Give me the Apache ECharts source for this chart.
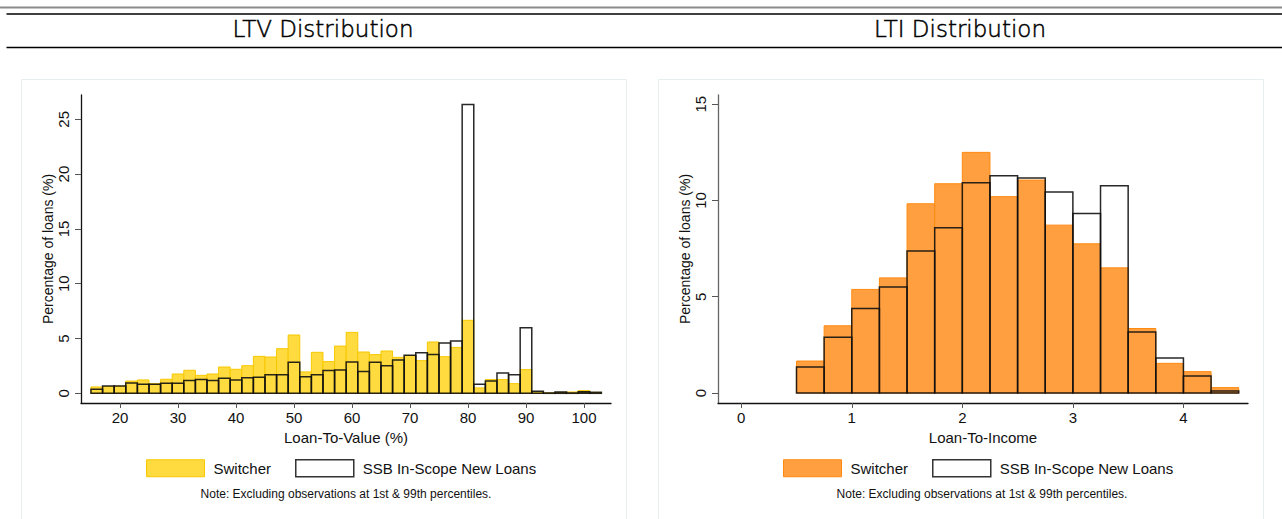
<!DOCTYPE html>
<html>
<head>
<meta charset="utf-8">
<script src="https://cdn.jsdelivr.net/npm/echarts@6/dist/echarts.min.js"></script>
<style>
  html, body { margin: 0; padding: 0; background: #ffffff; }
  #chart { width: 1282px; height: 519px; }
</style>
</head>
<body>
<div id="chart"></div>
<script>
// ---------------- DATA ----------------
// LTV histogram: bins of width 2 (lower edges), percentage of loans
const ltvBinWidth = 2;
const ltvBinLower = [15,17,19,21,23,25,27,29,31,33,35,37,39,41,43,45,47,49,51,53,55,57,59,61,63,65,67,69,71,73,75,77,79,81,83,85,87,89,91,93,95,97,99,101];
const ltvSwitcher = [0.58,0.62,0.65,1.12,1.22,0.88,1.28,1.76,2.10,1.64,1.76,2.40,2.19,2.52,3.37,3.31,4.07,5.32,1.95,3.74,2.89,4.31,5.56,3.77,3.53,3.86,3.28,3.45,2.98,4.68,3.34,4.19,6.66,0.49,1.25,1.25,0.88,2.16,0.12,0.03,0.09,0.12,0.24,0.09];
const ltvSSB      = [0.36,0.67,0.67,0.94,0.82,0.82,0.91,0.91,1.16,1.25,1.16,1.37,1.22,1.43,1.46,1.70,1.70,2.83,1.52,1.70,2.07,2.13,2.86,1.98,2.83,2.52,3.04,3.47,3.71,3.53,4.59,4.77,26.35,0.82,1.12,1.85,1.70,5.99,0.18,0.03,0.12,0.03,0.15,0.09];
const ltvTicksX = [20,30,40,50,60,70,80,90,100];
const ltvTicksY = [0,5,10,15,20,25];

// LTI histogram: bins of width 0.25 (lower edges)
const ltiBinWidth = 0.25;
const ltiBinLower = [0.5,0.75,1.0,1.25,1.5,1.75,2.0,2.25,2.5,2.75,3.0,3.25,3.5,3.75,4.0,4.25];
const ltiSwitcher = [1.66,3.49,5.38,5.98,9.83,10.87,12.50,10.20,11.06,8.72,7.75,6.50,3.35,1.54,1.11,0.28];
const ltiSSB      = [1.35,2.90,4.39,5.51,7.37,8.58,10.92,11.29,11.17,10.44,9.33,10.77,3.17,1.82,0.88,0.10];
const ltiTicksX = [0,1,2,3,4];
const ltiTicksY = [0,5,10,15];

const seriesNames = ['Switcher', 'SSB In-Scope New Loans'];
const titles = ['LTV Distribution', 'LTI Distribution'];
const xNames = ['Loan-To-Value (%)', 'Loan-To-Income'];
const yName = 'Percentage of loans (%)';
const noteText = 'Note: Excluding observations at 1st & 99th percentiles.';

// ---------------- STYLE ----------------
const FONT = 'Liberation Sans, Arial, Helvetica, sans-serif';
const TITLE_FONT = '200 23px "DejaVu Sans ExtraLight", "DejaVu Sans", sans-serif';
const yellowFill = '#FFDB3F', yellowStroke = '#F7C800';
const orangeFill = '#FF9F40', orangeStroke = '#FF8A10';
const outlineStroke = '#111111';

function makeData(lower, width, vals) {
  return lower.map((lo, i) => [lo, lo + width, vals[i]]);
}

function histRenderer(fill, stroke, lw, opacity) {
  return function (params, api) {
    const p0 = api.coord([api.value(0), api.value(2)]);
    const p1 = api.coord([api.value(1), 0]);
    return {
      type: 'rect',
      shape: { x: p0[0], y: p0[1], width: p1[0] - p0[0], height: p1[1] - p0[1] },
      style: { fill: fill, stroke: stroke, lineWidth: lw, opacity: opacity }
    };
  };
}

function axisX(idx, min, max, ticks, name) {
  return {
    type: 'value', gridIndex: idx, min: min, max: max,
    name: name, nameLocation: 'middle', nameGap: 24,
    nameTextStyle: { fontFamily: FONT, fontSize: 15, color: '#111' },
    axisLine: { show: true, onZero: false, lineStyle: { color: '#111', width: 1.3 } },
    axisTick: { show: true, inside: false, length: 5, customValues: ticks, lineStyle: { color: '#555', width: 1 } },
    axisLabel: { show: true, customValues: ticks, margin: 7, fontFamily: FONT, fontSize: 15, color: '#111' },
    splitLine: { show: false }
  };
}
function axisY(idx, min, max, ticks, gap) {
  return {
    type: 'value', gridIndex: idx, min: min, max: max,
    name: yName, nameLocation: 'middle', nameGap: gap,
    nameTextStyle: { fontFamily: FONT, fontSize: 14, color: '#111' },
    axisLine: { show: true, onZero: false, lineStyle: { color: idx === 0 ? '#111' : '#666', width: 1.3 } },
    axisTick: { show: true, inside: false, length: 6, customValues: ticks, lineStyle: { color: '#555', width: 1 } },
    axisLabel: { show: true, customValues: ticks, rotate: 90, margin: 10, fontFamily: FONT, fontSize: 15, color: '#111' },
    splitLine: { show: false }
  };
}

function legendFor(left, fill, stroke) {
  return {
    left: left, top: 459, orient: 'horizontal', padding: 0,
    itemWidth: 58, itemHeight: 17, itemGap: 24, selectedMode: false,
    textStyle: { fontFamily: FONT, fontSize: 15, color: '#111', padding: [0, 0, 0, 4] },
    data: [
      { name: seriesNames[0], icon: 'rect', itemStyle: { color: fill, borderColor: stroke, borderWidth: 1 } },
      { name: seriesNames[1], icon: 'rect', itemStyle: { color: '#ffffff', borderColor: '#333', borderWidth: 1.5 } }
    ]
  };
}

const chart = echarts.init(document.getElementById('chart'), null, { renderer: 'svg' });

const option = {
  backgroundColor: '#ffffff',
  animation: false,
  grid: [
    { left: 81, top: 95, width: 530, height: 308 },
    { left: 718, top: 95, width: 530, height: 308 }
  ],
  xAxis: [
    axisX(0, 13.28, 104.66, ltvTicksX, xNames[0]),
    axisX(1, -0.21, 4.584, ltiTicksX, xNames[1])
  ],
  yAxis: [
    axisY(0, -0.885, 27.22, ltvTicksY, 25),
    axisY(1, -0.52, 15.48, ltiTicksY, 21)
  ],
  legend: [
    legendFor(146, yellowFill, yellowStroke),
    legendFor(783, orangeFill, orangeStroke)
  ],
  graphic: [
    { type: 'line', shape: { x1: 0, y1: 7.5, x2: 1282, y2: 7.5 }, style: { stroke: '#8a8a8a', lineWidth: 1.8 } },
    { type: 'line', shape: { x1: 6.5, y1: 14, x2: 1282, y2: 14 }, style: { stroke: '#000', lineWidth: 1.3 } },
    { type: 'line', shape: { x1: 6.5, y1: 47.5, x2: 1282, y2: 47.5 }, style: { stroke: '#000', lineWidth: 1.3 } },
    { type: 'text', x: 323, y: 29, style: { text: titles[0], textAlign: 'center', textVerticalAlign: 'middle', font: TITLE_FONT, fill: '#000', stroke: '#000', lineWidth: 0.5 } },
    { type: 'text', x: 960, y: 29, style: { text: titles[1], textAlign: 'center', textVerticalAlign: 'middle', font: TITLE_FONT, fill: '#000', stroke: '#000', lineWidth: 0.5 } },
    { type: 'rect', shape: { x: 21.5, y: 79.5, width: 605, height: 460 }, style: { fill: 'none', stroke: '#e6eef0', lineWidth: 1 }, z: -1 },
    { type: 'rect', shape: { x: 658.5, y: 79.5, width: 605, height: 460 }, style: { fill: 'none', stroke: '#e6eef0', lineWidth: 1 }, z: -1 },
    { type: 'text', x: 346, y: 494, style: { text: noteText, textAlign: 'center', textVerticalAlign: 'middle', font: '12px ' + FONT, fill: '#111' } },
    { type: 'text', x: 982, y: 494, style: { text: noteText, textAlign: 'center', textVerticalAlign: 'middle', font: '12px ' + FONT, fill: '#111' } }
  ],
  series: [
    { type: 'custom', name: seriesNames[0], xAxisIndex: 0, yAxisIndex: 0,
      itemStyle: { color: yellowFill }, encode: { x: [0, 1], y: 2 },
      renderItem: histRenderer(yellowFill, yellowStroke, 1, 1),
      data: makeData(ltvBinLower, ltvBinWidth, ltvSwitcher) },
    { type: 'custom', name: seriesNames[1], xAxisIndex: 0, yAxisIndex: 0,
      itemStyle: { color: '#fff' }, encode: { x: [0, 1], y: 2 },
      renderItem: histRenderer('none', outlineStroke, 1.5, 0.9),
      data: makeData(ltvBinLower, ltvBinWidth, ltvSSB) },
    { type: 'custom', name: seriesNames[0], xAxisIndex: 1, yAxisIndex: 1,
      itemStyle: { color: orangeFill }, encode: { x: [0, 1], y: 2 },
      renderItem: histRenderer(orangeFill, orangeStroke, 1, 1),
      data: makeData(ltiBinLower, ltiBinWidth, ltiSwitcher) },
    { type: 'custom', name: seriesNames[1], xAxisIndex: 1, yAxisIndex: 1,
      itemStyle: { color: '#fff' }, encode: { x: [0, 1], y: 2 },
      renderItem: histRenderer('none', outlineStroke, 1.5, 0.9),
      data: makeData(ltiBinLower, ltiBinWidth, ltiSSB) }
  ]
};
chart.setOption(option);
</script>
</body>
</html>
